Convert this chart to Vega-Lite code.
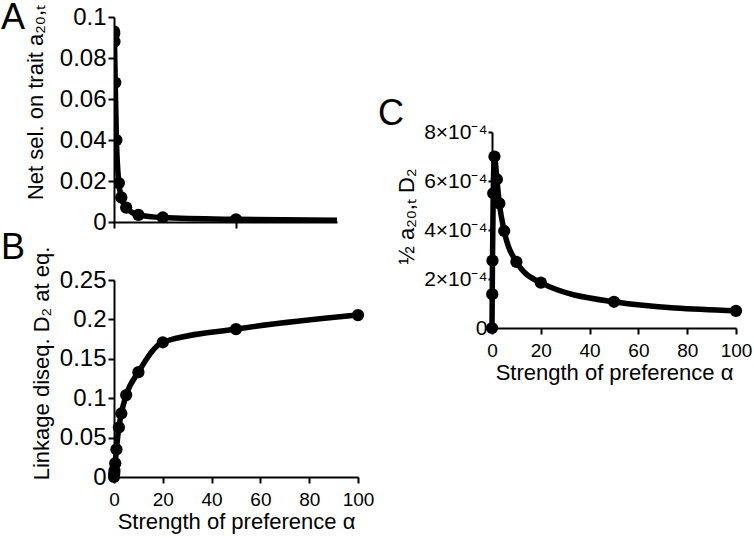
{
  "$schema": "https://vega.github.io/schema/vega-lite/v6.json",
  "autosize": {"type": "none"},
  "padding": {"left": 114, "top": 17, "right": 640, "bottom": 521},
  "background": "white",
  "bounds": "flush",
  "spacing": 378,
  "config": {
    "view": {"stroke": null},
    "font": "Liberation Sans",
    "axis": {
      "grid": false,
      "domainColor": "black",
      "domainWidth": 2,
      "tickColor": "black",
      "tickWidth": 2,
      "tickSize": 6,
      "labelFont": "Liberation Sans",
      "labelFontSize": 24,
      "labelColor": "black",
      "labelPadding": 2,
      "labelOverlap": false,
      "labelFlush": false,
      "titleFont": "Liberation Sans",
      "titleFontSize": 22,
      "titleFontWeight": "normal",
      "titleColor": "black"
    },
    "axisX": {"labelFontSize": 19, "labelPadding": 7, "titlePadding": 2},
    "title": {"font": "Liberation Sans", "fontSize": 36, "fontWeight": "normal", "color": "black", "anchor": "start", "frame": "group", "baseline": "top"}
  },
  "data": {
    "values": [
      {"alpha": 0, "a": 0.093, "D": 0, "C": 0},
      {"alpha": 0.1, "a": 0.092, "D": 0.004, "C": 0.000138},
      {"alpha": 0.2, "a": 0.088, "D": 0.008, "C": 0.000275},
      {"alpha": 0.5, "a": 0.068, "D": 0.0175, "C": 0.00055},
      {"alpha": 1, "a": 0.04, "D": 0.035, "C": 0.0007},
      {"alpha": 2, "a": 0.019, "D": 0.063, "C": 0.000607},
      {"alpha": 3, "a": 0.012, "D": 0.0806, "C": 0.000509},
      {"alpha": 5, "a": 0.007, "D": 0.104, "C": 0.000396},
      {"alpha": 10, "a": 0.0035, "D": 0.133, "C": 0.00027},
      {"alpha": 20, "a": 0.0022, "D": 0.171, "C": 0.000185},
      {"alpha": 50, "a": 0.0013, "D": 0.1877, "C": 0.000107},
      {"alpha": 100, "a": 0.0008, "D": 0.2055, "C": 0.00007}
    ]
  },
  "hconcat": [
    {
      "bounds": "flush",
      "spacing": 58,
      "vconcat": [
        {
          "width": 223,
          "height": 205,
          "title": {"text": "A", "dx": -113, "dy": 37},
          "encoding": {
            "x": {"field": "alpha", "type": "quantitative", "scale": {"domain": [0, 91.4], "nice": false},
                  "axis": {"values": [0, 50], "labels": false, "title": null}},
            "y": {"field": "a", "type": "quantitative", "scale": {"domain": [0, 0.1], "nice": false},
                  "axis": {"values": [0, 0.02, 0.04, 0.06, 0.08, 0.1], "format": "~g", "title": "Net sel. on trait a₂₀,ₜ", "titlePadding": 12, "titleY": 85}}
          },
          "layer": [
            {"mark": {"type": "line", "color": "black", "strokeWidth": 5.5, "interpolate": "monotone", "clip": true}},
            {"mark": {"type": "circle", "color": "black", "opacity": 1, "size": 150, "clip": true}}
          ]
        },
        {
          "width": 244,
          "height": 197,
          "title": {"text": "B", "dx": -113, "dy": 25},
          "encoding": {
            "x": {"field": "alpha", "type": "quantitative", "scale": {"domain": [0, 100], "nice": false},
                  "axis": {"values": [0, 20, 40, 60, 80, 100], "title": "Strength of preference α"}},
            "y": {"field": "D", "type": "quantitative", "scale": {"domain": [0, 0.25], "nice": false},
                  "axis": {"values": [0, 0.05, 0.1, 0.15, 0.2, 0.25], "format": "~g", "title": "Linkage diseq. D₂ at eq.", "titlePadding": 6, "titleY": 83}}
          },
          "layer": [
            {"mark": {"type": "line", "color": "black", "strokeWidth": 5.5, "interpolate": "monotone"}},
            {"mark": {"type": "circle", "color": "black", "opacity": 1, "size": 150}}
          ]
        }
      ]
    },
    {
      "width": 244,
      "height": 311,
      "title": {"text": "C", "dx": -114, "dy": 120},
      "encoding": {
        "x": {"field": "alpha", "type": "quantitative", "scale": {"domain": [0, 100], "nice": false},
              "axis": {"values": [0, 20, 40, 60, 80, 100], "title": "Strength of preference α"}},
        "y": {"field": "C", "type": "quantitative", "scale": {"domain": [0, 0.0008], "nice": false, "range": [311, 115]},
              "axis": {"values": [0, 0.0002, 0.0004, 0.0006, 0.0008], "labelExpr": "datum.value == 0 ? '0' : format(datum.value * 10000, 'd') + '×10⁻⁴'", "tickSize": 4, "labelPadding": 1, "labelFontSize": 21, "title": "½ a₂₀,ₜ D₂", "titlePadding": 5, "titleY": 199}}
      },
      "layer": [
        {"mark": {"type": "line", "color": "black", "strokeWidth": 5.5, "interpolate": "monotone"}},
        {"mark": {"type": "circle", "color": "black", "opacity": 1, "size": 150}}
      ]
    }
  ]
}
